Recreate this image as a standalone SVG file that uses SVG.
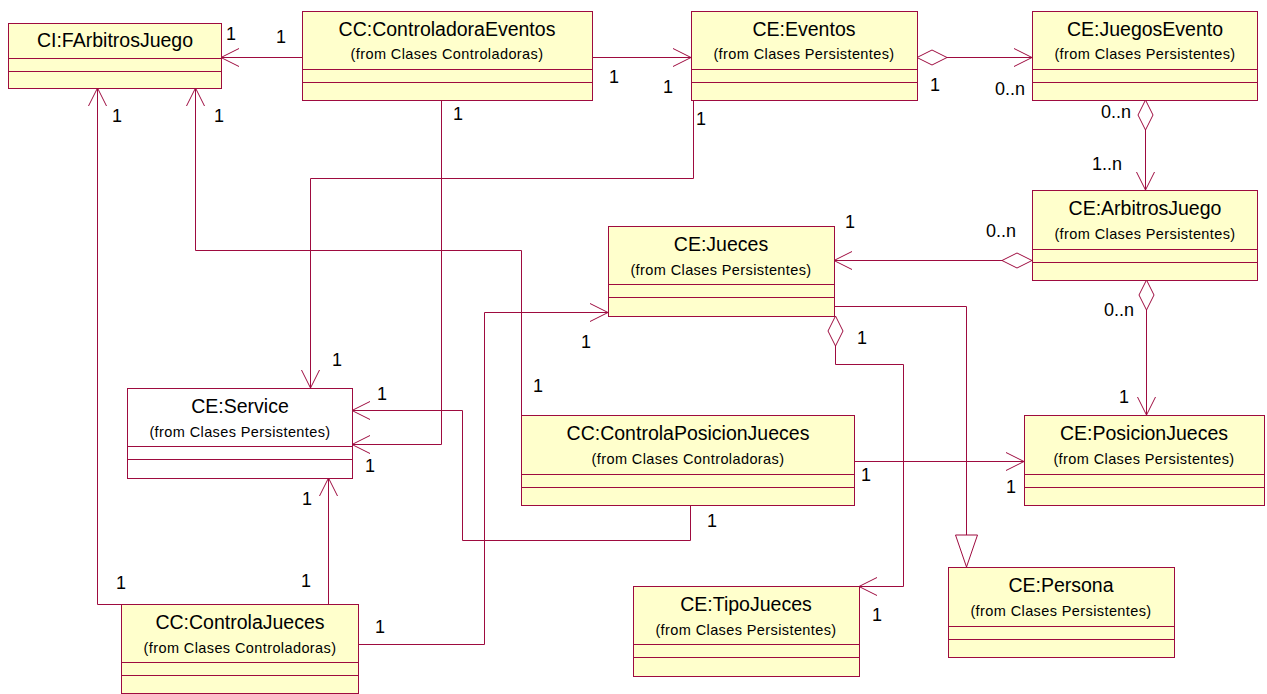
<svg xmlns="http://www.w3.org/2000/svg" width="1267" height="694" viewBox="0 0 1267 694">
  <style>
    .box { fill: #FFFFCC; stroke: #9E0B3F; stroke-width: 1; }
    .plain { fill: #FFFFFF; stroke: #9E0B3F; stroke-width: 1; }
    .sep { stroke: #9E0B3F; stroke-width: 1; }
    .title { font-family: "Liberation Sans", Arial, sans-serif; font-size: 19.5px; fill: #000; text-anchor: middle; }
    .pkg { font-family: "Liberation Sans", Arial, sans-serif; font-size: 14.5px; letter-spacing: 0.4px; fill: #000; text-anchor: middle; }
    .mult { font-family: "Liberation Sans", Arial, sans-serif; font-size: 18px; fill: #000; }
    .conn path { fill: none; stroke: #9E0B3F; stroke-width: 1; }
  </style>
  <defs>
    <marker id="open" markerUnits="userSpaceOnUse" markerWidth="1" markerHeight="1" refX="0" refY="0" orient="auto" overflow="visible">
      <path d="M -18 -9 L 0 0 L -18 9" fill="none" stroke="#9E0B3F" stroke-width="1"/>
    </marker>
    <marker id="diamond" markerUnits="userSpaceOnUse" markerWidth="1" markerHeight="1" refX="0" refY="0" orient="auto" overflow="visible">
      <path d="M 0 0 L 15 -7.5 L 30 0 L 15 7.5 Z" fill="#FFFFFF" stroke="#9E0B3F" stroke-width="1"/>
    </marker>
    <marker id="inherit" markerUnits="userSpaceOnUse" markerWidth="1" markerHeight="1" refX="0" refY="0" orient="auto" overflow="visible">
      <path d="M 0 0 L -32 -11 L -32 11 Z" fill="#FFFFFF" stroke="#9E0B3F" stroke-width="1"/>
    </marker>
  </defs>

  <rect width="1267" height="694" fill="#FFFFFF"/>

  <!-- associations, aggregations and generalization -->
  <g id="connectors" class="conn">
    <path d="M302 57.5 H221" marker-end="url(#open)"/>
    <path d="M592 57.5 H691" marker-end="url(#open)"/>
    <path d="M917 57.5 H1032" marker-start="url(#diamond)" marker-end="url(#open)"/>
    <path d="M1145.5 100 V190" marker-start="url(#diamond)" marker-end="url(#open)"/>
    <path d="M1032 260.5 H834" marker-start="url(#diamond)" marker-end="url(#open)"/>
    <path d="M1146.5 280 V415" marker-start="url(#diamond)" marker-end="url(#open)"/>
    <path d="M835.5 316 V364.5 H903.5 V586.5 H859" marker-start="url(#diamond)" marker-end="url(#open)"/>
    <path d="M834 306.5 H966.5 V567" marker-end="url(#inherit)"/>
    <path d="M855 461.5 H1024" marker-end="url(#open)"/>
    <path d="M521.5 415 V250.5 H195.5 V88" marker-end="url(#open)"/>
    <path d="M690.5 505 V540.5 H462.5 V410.5 H352" marker-end="url(#open)"/>
    <path d="M441.5 100 V444.5 H352" marker-end="url(#open)"/>
    <path d="M693.5 100 V178.5 H310.5 V388" marker-end="url(#open)"/>
    <path d="M328.5 604 V478" marker-end="url(#open)"/>
    <path d="M121 604.5 H97.5 V88" marker-end="url(#open)"/>
    <path d="M358 644.5 H484.5 V312.5 H608" marker-end="url(#open)"/>
  </g>

  <!-- multiplicities -->
  <g id="multiplicities" class="mult">
    <text x="226" y="40">1</text>
    <text x="276" y="43">1</text>
    <text x="609" y="83">1</text>
    <text x="663" y="93">1</text>
    <text x="930" y="91">1</text>
    <text x="995" y="95">0..n</text>
    <text x="1101" y="118">0..n</text>
    <text x="1092" y="170">1..n</text>
    <text x="986" y="237">0..n</text>
    <text x="845" y="228">1</text>
    <text x="1104" y="316">0..n</text>
    <text x="1119" y="403">1</text>
    <text x="857" y="344">1</text>
    <text x="872" y="621">1</text>
    <text x="861" y="481">1</text>
    <text x="1006" y="493">1</text>
    <text x="214" y="122">1</text>
    <text x="112" y="122">1</text>
    <text x="533" y="392">1</text>
    <text x="707" y="527">1</text>
    <text x="377" y="400">1</text>
    <text x="453" y="120">1</text>
    <text x="365" y="472">1</text>
    <text x="696" y="125">1</text>
    <text x="332" y="366">1</text>
    <text x="302" y="505">1</text>
    <text x="301" y="587">1</text>
    <text x="116" y="589">1</text>
    <text x="375" y="633">1</text>
    <text x="581" y="348">1</text>
  </g>

  <!-- classes -->
  <g id="FArbitrosJuego">
    <rect class="box" x="8.5" y="23.5" width="213" height="65"/>
    <path class="sep" d="M8.5 58.5 H221.5 M8.5 71.5 H221.5"/>
    <text class="title" x="115" y="47">CI:FArbitrosJuego</text>
  </g>

  <g id="ControladoraEventos">
    <rect class="box" x="302.5" y="11.5" width="290" height="89"/>
    <path class="sep" d="M302.5 69.5 H592.5 M302.5 82.5 H592.5"/>
    <text class="title" x="447" y="36">CC:ControladoraEventos</text>
    <text class="pkg" x="447" y="59">(from Clases Controladoras)</text>
  </g>

  <g id="Eventos">
    <rect class="box" x="691.5" y="11.5" width="226" height="89"/>
    <path class="sep" d="M691.5 69.5 H917.5 M691.5 82.5 H917.5"/>
    <text class="title" x="804" y="36">CE:Eventos</text>
    <text class="pkg" x="804" y="59">(from Clases Persistentes)</text>
  </g>

  <g id="JuegosEvento">
    <rect class="box" x="1032.5" y="11.5" width="225" height="89"/>
    <path class="sep" d="M1032.5 69.5 H1257.5 M1032.5 82.5 H1257.5"/>
    <text class="title" x="1145" y="36">CE:JuegosEvento</text>
    <text class="pkg" x="1145" y="59">(from Clases Persistentes)</text>
  </g>

  <g id="ArbitrosJuego">
    <rect class="box" x="1032.5" y="190.5" width="225" height="90"/>
    <path class="sep" d="M1032.5 249.5 H1257.5 M1032.5 262.5 H1257.5"/>
    <text class="title" x="1145" y="215">CE:ArbitrosJuego</text>
    <text class="pkg" x="1145" y="239">(from Clases Persistentes)</text>
  </g>

  <g id="Jueces">
    <rect class="box" x="608.5" y="226.5" width="226" height="90"/>
    <path class="sep" d="M608.5 284.5 H834.5 M608.5 297.5 H834.5"/>
    <text class="title" x="721" y="251">CE:Jueces</text>
    <text class="pkg" x="721" y="275">(from Clases Persistentes)</text>
  </g>

  <g id="Service">
    <rect class="plain" x="127.5" y="388.5" width="225" height="90"/>
    <path class="sep" d="M127.5 446.5 H352.5 M127.5 459.5 H352.5"/>
    <text class="title" x="240" y="413">CE:Service</text>
    <text class="pkg" x="240" y="437">(from Clases Persistentes)</text>
  </g>

  <g id="ControlaPosicionJueces">
    <rect class="box" x="521.5" y="415.5" width="333" height="90"/>
    <path class="sep" d="M521.5 474.5 H854.5 M521.5 487.5 H854.5"/>
    <text class="title" x="688" y="440">CC:ControlaPosicionJueces</text>
    <text class="pkg" x="688" y="464">(from Clases Controladoras)</text>
  </g>

  <g id="PosicionJueces">
    <rect class="box" x="1024.5" y="415.5" width="240" height="90"/>
    <path class="sep" d="M1024.5 474.5 H1264.5 M1024.5 487.5 H1264.5"/>
    <text class="title" x="1144" y="440">CE:PosicionJueces</text>
    <text class="pkg" x="1144" y="464">(from Clases Persistentes)</text>
  </g>

  <g id="ControlaJueces">
    <rect class="box" x="121.5" y="604.5" width="237" height="89"/>
    <path class="sep" d="M121.5 662.5 H358.5 M121.5 675.5 H358.5"/>
    <text class="title" x="240" y="629">CC:ControlaJueces</text>
    <text class="pkg" x="240" y="653">(from Clases Controladoras)</text>
  </g>

  <g id="TipoJueces">
    <rect class="box" x="633.5" y="586.5" width="226" height="90"/>
    <path class="sep" d="M633.5 644.5 H859.5 M633.5 657.5 H859.5"/>
    <text class="title" x="746" y="611">CE:TipoJueces</text>
    <text class="pkg" x="746" y="635">(from Clases Persistentes)</text>
  </g>

  <g id="Persona">
    <rect class="box" x="948.5" y="567.5" width="226" height="90"/>
    <path class="sep" d="M948.5 626.5 H1174.5 M948.5 639.5 H1174.5"/>
    <text class="title" x="1061" y="592">CE:Persona</text>
    <text class="pkg" x="1061" y="616">(from Clases Persistentes)</text>
  </g>
</svg>
